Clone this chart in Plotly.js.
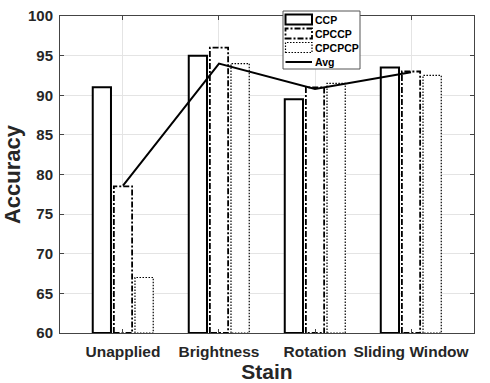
<!DOCTYPE html>
<html>
<head>
<meta charset="utf-8">
<script src="https://cdn.plot.ly/plotly-3.0.1.min.js"></script>
<style>html,body{margin:0;padding:0;background:#fff}#chart{width:490px;height:383px}</style>
</head>
<body>
<div id="chart"></div>
<script>
var categories = ["Unapplied", "Brightness", "Rotation", "Sliding Window"];
var ccp = [91, 95, 89.5, 93.5];
var cpccp = [78.5, 96, 91, 93];
var cpcpcp = [67, 94, 91.5, 92.5];
var avg = [78.6, 94, 90.8, 92.9];
var seriesNames = ["CCP", "CPCCP", "CPCPCP", "Avg"];
var yTicks = [60, 65, 70, 75, 80, 85, 90, 95, 100];

var idx = categories.map(function (_, i) { return i; });
var W = 0.19, SH = 0.22, BASE = 60;
var font = "Liberation Sans, Arial, sans-serif";

function barTrace(vals, shift, name, lineW) {
  return {
    type: "bar", name: name, showlegend: false,
    x: idx.map(function (i) { return i + shift; }),
    y: vals.map(function (v) { return v - BASE; }), base: BASE,
    width: W,
    marker: { color: "#ffffff", line: { color: "#000", width: lineW } },
    hoverinfo: "skip"
  };
}
function outlineTrace(vals, shift, dash, width, name) {
  var xs = [], ys = [];
  vals.forEach(function (v, i) {
    var c = i + shift;
    xs.push(c - W / 2, c - W / 2, c + W / 2, c + W / 2, c - W / 2, null);
    ys.push(BASE, v, v, BASE, BASE, null);
  });
  return { type: "scatter", mode: "lines", name: name, showlegend: false,
    x: xs, y: ys, line: { color: "#000", width: width, dash: dash }, hoverinfo: "skip", cliponaxis: false };
}

var DASHDOT = "6px,2px,2px,2px";
var DOT = "1.5px,1.5px";

var traces = [
  barTrace(ccp, -SH, seriesNames[0], 2),
  barTrace(cpccp, 0, seriesNames[1], 0),
  barTrace(cpcpcp, SH, seriesNames[2], 0),
  outlineTrace(cpccp, 0, DASHDOT, 1.8, seriesNames[1]),
  outlineTrace(cpcpcp, SH, DOT, 1.2, seriesNames[2]),
  { type: "scatter", mode: "lines", name: seriesNames[3], showlegend: false,
    x: idx, y: avg, line: { color: "#000", width: 2 }, hoverinfo: "skip" }
];

// custom legend (paper coords)
function px(x) { return (x - 60) / 414; }
function py(y) { return (333 - y) / 317; }
var shapes = [
  { type: "rect", xref: "paper", yref: "paper", x0: px(283), x1: px(360), y0: py(69), y1: py(11),
    fillcolor: "#fff", line: { color: "#555", width: 1 } },
  { type: "rect", xref: "paper", yref: "paper", x0: px(285.5), x1: px(312), y0: py(24.5), y1: py(14.5),
    line: { color: "#000", width: 2 } },
  { type: "rect", xref: "paper", yref: "paper", x0: px(285.5), x1: px(312), y0: py(38.5), y1: py(28.5),
    line: { color: "#000", width: 1.8, dash: DASHDOT } },
  { type: "rect", xref: "paper", yref: "paper", x0: px(285.5), x1: px(312), y0: py(52.5), y1: py(42.5),
    line: { color: "#000", width: 1.2, dash: DOT } },
  { type: "line", xref: "paper", yref: "paper", x0: px(285.5), x1: px(312), y0: py(62), y1: py(62),
    line: { color: "#000", width: 2 } }
];
var legY = [19.5, 33.5, 47.5, 62];
var annotations = seriesNames.map(function (n, i) {
  return { xref: "paper", yref: "paper", x: px(312.5), y: py(legY[i]), xanchor: "left", yanchor: "middle",
    text: n, showarrow: false, font: { family: font, size: 10.5, color: "#000", weight: "bold" } };
});

var layout = {
  width: 490, height: 383,
  margin: { l: 60, r: 16, t: 16, b: 50 },
  paper_bgcolor: "#fff", plot_bgcolor: "#fff",
  barmode: "overlay",
  showlegend: false,
  font: { family: font, color: "#262626" },
  xaxis: {
    range: [-0.656, 3.656], tickvals: idx, ticktext: categories,
    showgrid: true, gridcolor: "#e4e4e4", gridwidth: 1,
    showline: true, linecolor: "#444", linewidth: 1, mirror: "ticks",
    ticks: "inside", ticklen: 4, tickcolor: "#444", zeroline: false,
    ticklabelstandoff: 4,
    tickfont: { family: font, size: 15.5, weight: "bold", color: "#262626" },
    title: { text: "Stain", font: { family: font, size: 21, weight: "bold", color: "#262626" }, standoff: 6 }
  },
  yaxis: {
    range: [60, 100], tickvals: yTicks,
    showgrid: true, gridcolor: "#e4e4e4", gridwidth: 1,
    showline: true, linecolor: "#444", linewidth: 1, mirror: "ticks",
    ticks: "inside", ticklen: 4, tickcolor: "#444", zeroline: false,
    ticklabelstandoff: 3,
    tickfont: { family: font, size: 15, weight: "bold", color: "#262626" },
    title: { text: "Accuracy", font: { family: font, size: 22, weight: "bold", color: "#262626" }, standoff: 6 }
  },
  shapes: shapes,
  annotations: annotations
};

Plotly.newPlot("chart", traces, layout, { displayModeBar: false, staticPlot: true });
</script>
</body>
</html>
